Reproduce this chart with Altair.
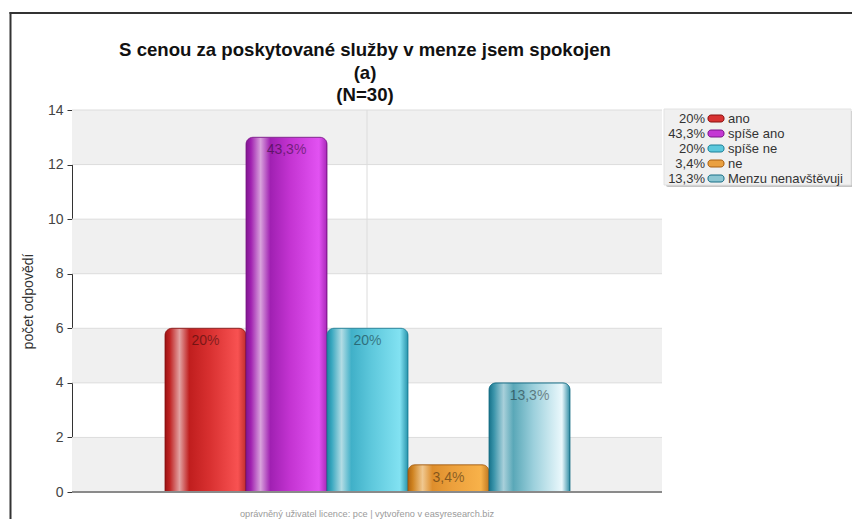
import altair as alt
import pandas as pd

# ---------------- data ----------------
categories = ["ano", "spíše ano", "spíše ne", "ne", "Menzu nenavštěvuji"]
counts = [6, 13, 6, 1, 4]
pct_labels = ["20%", "43,3%", "20%", "3,4%", "13,3%"]
y_ticks = [0, 2, 4, 6, 8, 10, 12, 14]
band_starts = [0, 4, 8, 12]
title_lines = ["S cenou za poskytované služby v menze jsem spokojen", "(a)", "(N=30)"]
footer_text = "oprávněný uživatel licence: pce | vytvořeno v easyresearch.biz"
y_title = "počet odpovědí"

# ---------------- styles ----------------
FONT = "Liberation Sans"
W, H = 590, 382
stop_offsets = [0, 0.06, 0.18, 0.3, 0.55, 0.9, 1]
gradient_colors = {
    "ano": ["#9c1212", "#c02424", "#e2a2a2", "#c01e1e", "#d83030", "#f85252", "#c02c2c"],
    "spíše ano": ["#801890", "#a020b0", "#d8a2dc", "#a020b2", "#c434d2", "#e252f2", "#a828b8"],
    "spíše ne": ["#1e88a0", "#3aa8c0", "#b2dce4", "#40b0c8", "#5ec8dc", "#82e2f2", "#2894ac"],
    "ne": ["#b06410", "#d08422", "#f0c890", "#de8e2c", "#eca03c", "#f8b24a", "#c07820"],
    "Menzu nenavštěvuji": ["#16728a", "#3a94aa", "#a8d0da", "#5aa8b8", "#9cd0dc", "#eaf8fc", "#2e8ca4"],
}
edge_colors = ["#8a1010", "#7a1488", "#1c8098", "#a85e10", "#186e86"]
swatch_colors = ["#d83232", "#c438d4", "#5cc8dc", "#eaa040", "#8cc6d2"]

df = pd.DataFrame({"cat": categories, "count": counts, "pct": pct_labels})
bands_df = pd.DataFrame({"start": band_starts, "end": [b + 2 for b in band_starts]})
ticks_df = pd.DataFrame({"tick": y_ticks})
one = pd.DataFrame({"k": [0]})

y_scale = alt.Scale(domain=[0, 14], nice=False, zero=True)
y_axis = alt.Axis(
    values=y_ticks, title=y_title, grid=False,
    domainColor="#333", tickColor="#333", tickSize=5,
    labelFont=FONT, labelFontSize=14, labelColor="#444", labelPadding=4,
    titleFont=FONT, titleFontSize=14, titleFontWeight="normal", titleColor="#333",
    titlePadding=12,
)
x_enc = alt.X("cat:N", sort=categories,
              scale=alt.Scale(domain=categories, range=[93, 498], paddingInner=0, paddingOuter=0),
              axis=None)

bands = alt.Chart(bands_df).mark_rect(color="#f0f0f0").encode(
    y=alt.Y("start:Q", scale=y_scale, axis=y_axis), y2="end:Q",
    x=alt.value(0), x2=alt.value(W))

grid = alt.Chart(ticks_df).mark_rule(color="#dcdcdc", strokeWidth=1).encode(
    y=alt.Y("tick:Q", scale=y_scale, axis=y_axis), x=alt.value(0), x2=alt.value(W))

center_rule = alt.Chart(one).mark_rule(color="#dcdcdc", strokeWidth=1).encode(
    x=alt.value(W / 2), y=alt.value(0), y2=alt.value(H))

bar_layers = []
for i, cat in enumerate(categories):
    grad = alt.Gradient(
        gradient="linear",
        stops=[alt.GradientStop(color=c, offset=o) for c, o in zip(gradient_colors[cat], stop_offsets)],
        x1=0, x2=1, y1=0, y2=0)
    bar_layers.append(
        alt.Chart(df).transform_filter(alt.datum.cat == cat).mark_bar(
            color=grad, cornerRadiusTopLeft=7, cornerRadiusTopRight=7,
            stroke=edge_colors[i], strokeWidth=1, strokeOpacity=0.8,
        ).encode(x=x_enc, y=alt.Y("count:Q", scale=y_scale, axis=y_axis))
    )

labels = alt.Chart(df).mark_text(
    baseline="middle", dy=13, fontSize=14, font=FONT, color="#000", opacity=0.42
).encode(x=x_enc, y=alt.Y("count:Q", scale=y_scale, axis=y_axis), text="pct:N")

bottom_rule = alt.Chart(one).mark_rule(color="#8a8a8a", strokeWidth=2).encode(
    y=alt.value(H), x=alt.value(0), x2=alt.value(W))

title = alt.Chart(one).mark_text(
    font=FONT, fontSize=18.6, fontWeight="bold", color="#111", align="center",
    baseline="alphabetic", lineHeight=22.5
).encode(x=alt.value(W / 2 - 2), y=alt.value(-54), text=alt.value(title_lines))

footer = alt.Chart(one).mark_text(
    font=FONT, fontSize=9.2, color="#9a9a9a", align="center", baseline="middle"
).encode(x=alt.value(W / 2), y=alt.value(404), text=alt.value(footer_text))

border_top = alt.Chart(one).mark_rule(color="#333", strokeWidth=2).encode(
    x=alt.value(-62.5), x2=alt.value(800), y=alt.value(-97))
border_left = alt.Chart(one).mark_rule(color="#333", strokeWidth=2).encode(
    x=alt.value(-61.5), y=alt.value(-98), y2=alt.value(420))

main = alt.layer(bands, grid, center_rule, *bar_layers, labels, bottom_rule,
                 title, footer, border_top, border_left)

# ---------------- legend ----------------
legend_y = alt.Y("cat:N", sort=categories,
                 scale=alt.Scale(domain=categories, range=[1, 76], paddingInner=0, paddingOuter=0),
                 axis=None)
legend_shadow = alt.Chart(one).mark_rect(color="#c4c4c4", cornerRadius=2).encode(
    x=alt.value(594), x2=alt.value(782), y=alt.value(1), y2=alt.value(77))
legend_box = alt.Chart(one).mark_rect(color="#f0f0f0", stroke="#e2e2e2", strokeWidth=1).encode(
    x=alt.value(592), x2=alt.value(779), y=alt.value(-1), y2=alt.value(75))
legend_pct = alt.Chart(df).mark_text(
    align="right", baseline="middle", fontSize=13, font=FONT, color="#333"
).encode(y=legend_y, x=alt.value(633), text="pct:N")
legend_swatch = alt.Chart(df).mark_bar(height=7, cornerRadius=3, strokeWidth=1).encode(
    y=legend_y, x=alt.value(636), x2=alt.value(652),
    color=alt.Color("cat:N", scale=alt.Scale(domain=categories, range=swatch_colors), legend=None),
    stroke=alt.Stroke("cat:N", scale=alt.Scale(domain=categories, range=edge_colors), legend=None))
legend_label = alt.Chart(df).mark_text(
    align="left", baseline="middle", fontSize=13, font=FONT, color="#333"
).encode(y=legend_y, x=alt.value(656), text="cat:N")

legend = alt.layer(legend_shadow, legend_box, legend_pct, legend_swatch, legend_label)

chart = alt.layer(main, legend).resolve_scale(y="independent", color="independent").properties(
    width=W, height=H,
    padding={"left": 64, "top": 102, "right": 190, "bottom": 27},
    autosize=alt.AutoSizeParams(type="none"),
    background="white",
).configure_view(stroke=None)

chart.save("out.html", embed_options={"renderer": "svg", "actions": False})
